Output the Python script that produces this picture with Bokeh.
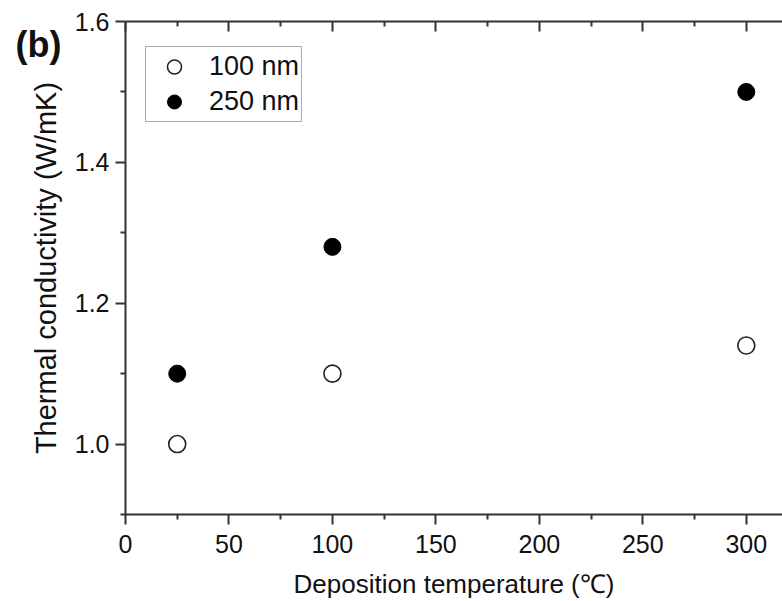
from bokeh.plotting import figure
from bokeh.models import Range1d, LinearAxis, Legend, LegendItem, FixedTicker, NumeralTickFormatter
from bokeh.embed import file_html
from bokeh.resources import INLINE

# Data
temps = [25, 100, 300]
k_100nm = [1.00, 1.10, 1.14]
k_250nm = [1.10, 1.28, 1.50]
x_ticks = [0, 50, 100, 150, 200, 250, 300]
y_ticks = [1.0, 1.2, 1.4, 1.6]
series_labels = ["100 nm", "250 nm"]

FONT = "Liberation Sans"
AXC = "#333333"

p = figure(width=782, height=601, output_backend="svg", toolbar_location=None,
           x_range=Range1d(0, 317.5), y_range=Range1d(0.9, 1.6),
           min_border_left=125, min_border_top=21, min_border_right=0, min_border_bottom=86)
p.outline_line_color = None
p.grid.visible = False
p.background_fill_color = "white"

r1 = p.scatter(temps, k_100nm, size=17, marker="circle", fill_color="white",
               line_color="#222222", line_width=1.6)
r2 = p.scatter(temps, k_250nm, size=17, marker="circle", fill_color="black",
               line_color="black", line_width=1.0)

def style(ax):
    ax.axis_line_color = AXC
    ax.axis_line_width = 2
    ax.major_tick_line_color = AXC
    ax.minor_tick_line_color = AXC
    ax.major_tick_line_width = 2
    ax.minor_tick_line_width = 2
    ax.major_label_text_font = FONT
    ax.major_label_text_color = "#111111"
    ax.axis_label_text_font = FONT
    ax.axis_label_text_font_style = "normal"
    ax.axis_label_text_color = "#111111"

xa = p.xaxis[0]
style(xa)
xa.ticker = FixedTicker(ticks=x_ticks, minor_ticks=[25, 75, 125, 175, 225, 275])
xa.major_tick_in = 0
xa.major_tick_out = 10
xa.minor_tick_in = 0
xa.minor_tick_out = 5
xa.major_label_text_font_size = "25px"
xa.major_label_standoff = 10
xa.axis_label = "Deposition temperature (\u2103)"
xa.axis_label_text_font_size = "26px"
xa.axis_label_standoff = 13

ya = p.yaxis[0]
style(ya)
ya.ticker = FixedTicker(ticks=y_ticks, minor_ticks=[0.9, 1.1, 1.3, 1.5])
ya.formatter = NumeralTickFormatter(format="0.0")
ya.major_tick_in = 0
ya.major_tick_out = 10
ya.minor_tick_in = 0
ya.minor_tick_out = 5
ya.major_label_text_font_size = "25px"
ya.major_label_standoff = 6
ya.axis_label = "Thermal conductivity (W/mK)"
ya.axis_label_text_font_size = "29px"
ya.axis_label_standoff = 10

top = LinearAxis(ticker=FixedTicker(ticks=x_ticks, minor_ticks=[25, 75, 125, 175, 225, 275]))
style(top)
top.major_tick_in = 10
top.major_tick_out = 0
top.minor_tick_in = 5
top.minor_tick_out = 0
top.major_label_text_font_size = "0px"
top.major_label_text_color = None
top.major_label_standoff = 0
p.add_layout(top, "above")

legend = Legend(items=[LegendItem(label=series_labels[0], renderers=[r1]),
                       LegendItem(label=series_labels[1], renderers=[r2])],
                location=(20, 392), orientation="vertical")
legend.label_text_font = FONT
legend.label_text_font_size = "27px"
legend.label_text_color = "#111111"
legend.glyph_width = 52
legend.glyph_height = 35
legend.label_height = 35
legend.label_standoff = 9
legend.padding = 2
legend.spacing = 0
legend.margin = 0
legend.border_line_color = "#555555"
legend.border_line_width = 1.2
legend.background_fill_alpha = 1
p.add_layout(legend, "center")

# panel label "(b)" drawn as the plot title, pulled down beside the y axis
p.title.text = "(b)"
p.title.text_font = FONT
p.title.text_font_size = "36px"
p.title.text_font_style = "bold"
p.title.text_color = "#111111"
p.title.align = "left"
p.title.vertical_align = "bottom"
p.title.offset = -110
p.title.standoff = -86

open("out.html", "w").write(file_html(p, INLINE))
